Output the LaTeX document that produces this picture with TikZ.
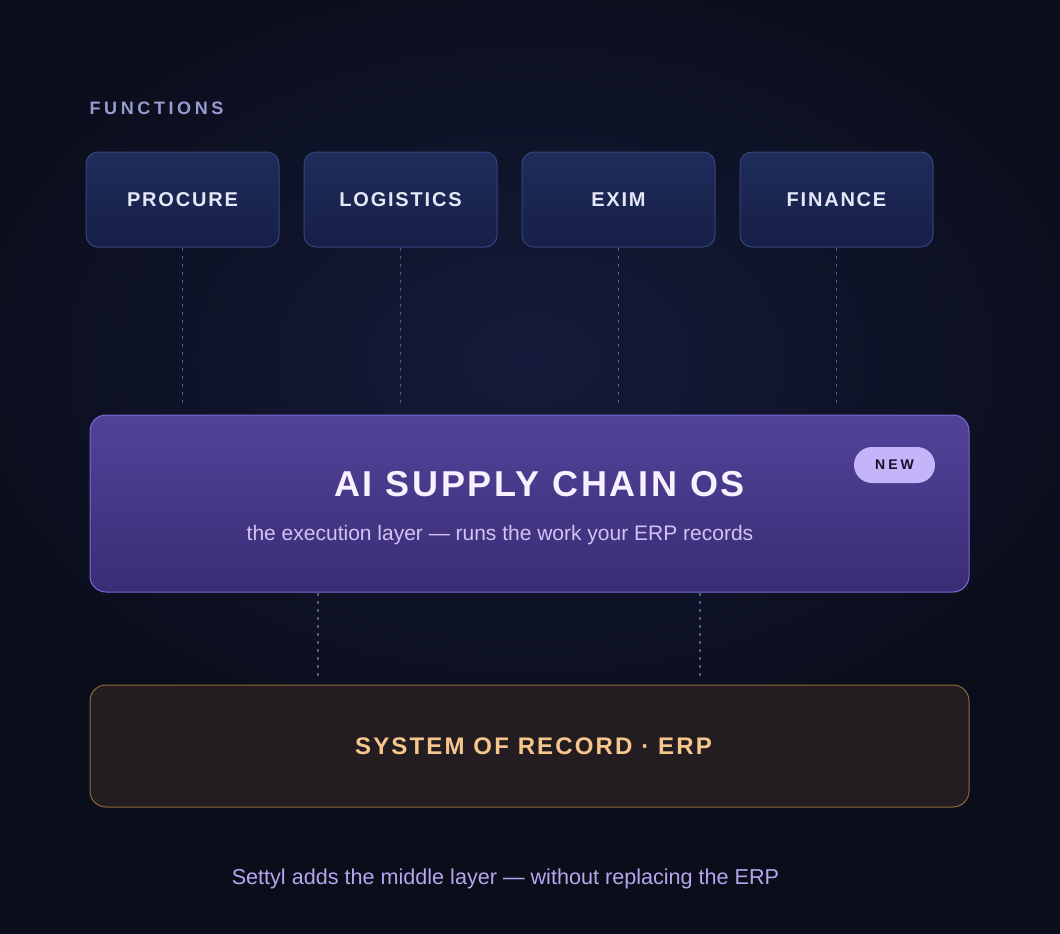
\documentclass[tikz,border=0pt]{standalone}
\usepackage{fontspec}
\setmainfont{Liberation Sans}
\usetikzlibrary{backgrounds}
\usetikzlibrary{calc}

\begin{document}
\begin{tikzpicture}[x=1pt, y=-1pt, semithick, node distance=218pt]
%====Definizione colori===============================================================
	\definecolor{fondo}{HTML}{0A0D1A}
	\definecolor{alone}{HTML}{151B3A}
	\definecolor{etichetta}{HTML}{9A9CD0}
	\definecolor{funtop}{HTML}{1F2C5A}
	\definecolor{funbot}{HTML}{161F48}
	\definecolor{funbordo}{HTML}{34457E}
	\definecolor{funtesto}{HTML}{E6E8F8}
	\definecolor{tratto}{HTML}{545A88}
	\definecolor{aitop}{HTML}{52439A}
	\definecolor{aibot}{HTML}{3A2C74}
	\definecolor{aibordo}{HTML}{7B68D8}
	\definecolor{aititolo}{HTML}{F6F0FF}
	\definecolor{aisotto}{HTML}{D0C4F4}
	\definecolor{badge}{HTML}{C4B4FA}
	\definecolor{badgetesto}{HTML}{15102A}
	\definecolor{erpfondo}{HTML}{231D22}
	\definecolor{erpbordo}{HTML}{8C6A38}
	\definecolor{erptesto}{HTML}{F7C68C}
	\definecolor{nota}{HTML}{B7A6EE}
%====Definizione stili===============================================================
	\tikzstyle{funzione}=[rectangle, rounded corners=12pt, top color=funtop, bottom color=funbot, draw=funbordo, line width=1pt, minimum width=193pt, minimum height=95pt, text=funtesto, font=\fontsize{20}{24}\selectfont\bfseries\addfontfeature{LetterSpace=9}]
	\tikzstyle{strato}=[rectangle, rounded corners=16pt, line width=1pt, minimum width=879pt]
	\tikzstyle{tratteggio}=[draw=tratto, line width=1.3pt, dash pattern=on 3pt off 5pt]
%====Sfondo===============================================================
	\useasboundingbox (0,0) rectangle (1060,934);
	\fill[fondo] (0,0) rectangle (1060,934);
	\shade[inner color=alone, outer color=fondo] (530,360) ellipse (620 and 420);
%====Definizione nodi e posizione===============================================================
	\node[anchor=west, text=etichetta, font=\fontsize{18}{22}\selectfont\bfseries\addfontfeature{LetterSpace=20}] (T) at (86,108) {FUNCTIONS};
	\node[funzione]	(P) at (182.5,199.5)	{PROCURE};
	\node[funzione]	(L) [right of=P]		{LOGISTICS};
	\node[funzione]	(E) [right of=L]		{EXIM};
	\node[funzione]	(F) [right of=E]		{FINANCE};

	\node[strato, minimum height=177pt, top color=aitop, bottom color=aibot, draw=aibordo] (AI) at (529.5,503.5) {};
	\node[text=aititolo, font=\fontsize{36}{40}\selectfont\bfseries\addfontfeature{LetterSpace=7.5}] (AIt) at (539.5,484) {AI SUPPLY CHAIN OS};
	\node[text=aisotto, font=\fontsize{21}{25}\selectfont] (AIs) at (500,535) {the execution layer --- runs the work your ERP records};
	\node[rectangle, rounded corners=18pt, fill=badge, minimum width=81pt, minimum height=36pt, inner sep=0pt, text=badgetesto, font=\fontsize{14}{16}\selectfont\bfseries\addfontfeature{LetterSpace=22}] (N) at (894.5,465) {NEW};

	\node[strato, minimum height=122pt, fill=erpfondo, draw=erpbordo] (ERP) at (529.5,746) {};
	\node[text=erptesto, font=\fontsize{24}{28}\selectfont\bfseries\addfontfeature{LetterSpace=9}] (ERPt) at (533.5,746) {SYSTEM OF RECORD · ERP};

	\node[text=nota, font=\fontsize{21.6}{25}\selectfont] (S) at (505.5,879) {Settyl adds the middle layer --- without replacing the ERP};

	\coordinate (x1) at (318,0);
	\coordinate (x2) at (700,0);
%====Aloni===============================================================
	\begin{scope}[on background layer]
		\foreach \g in {3,6,...,30}
			\fill[aibordo, opacity=0.025, rounded corners=22pt] ($(AI.north west)+(-\g,-\g)$) rectangle ($(AI.south east)+(\g,\g)$);
		\foreach \g in {3,6,...,21}
			\fill[erpbordo, opacity=0.02, rounded corners=22pt] ($(ERP.north west)+(-\g,-\g)$) rectangle ($(ERP.south east)+(\g,\g)$);
	\end{scope}
%====Definizione collegamenti===============================================================
	\path	(P.south)	edge[tratteggio, shorten >=10pt]	(P.south |- AI.north)
			(L.south)	edge[tratteggio, shorten >=10pt]	(L.south |- AI.north)
			(E.south)	edge[tratteggio, shorten >=10pt]	(E.south |- AI.north)
			(F.south)	edge[tratteggio, shorten >=10pt]	(F.south |- AI.north)
			(AI.south -| x1)	edge[tratteggio, shorten >=6pt]	(ERP.north -| x1)
			(AI.south -| x2)	edge[tratteggio, shorten >=6pt]	(ERP.north -| x2);
\end{tikzpicture}
\end{document}
